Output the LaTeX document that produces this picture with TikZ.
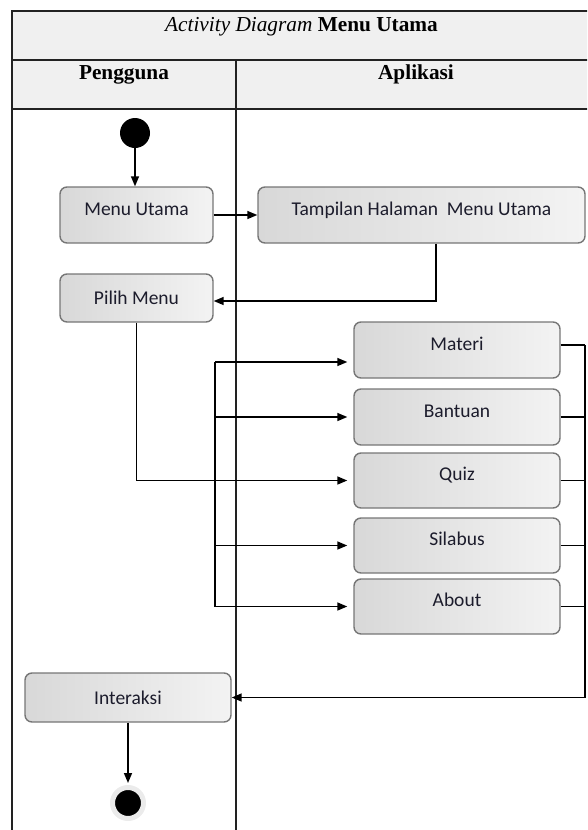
\documentclass[tikz,border=0pt]{standalone}
\usepackage{fontspec}
\setmainfont{Liberation Serif}
\newfontfamily\boxfont{Carlito}
\usetikzlibrary{arrows.meta}

\definecolor{hdrfill}{HTML}{F0F0F0}
\definecolor{rulecol}{HTML}{222222}
\definecolor{boxedge}{HTML}{767676}
\definecolor{shadeL}{HTML}{D8D8D8}
\definecolor{shadeR}{HTML}{F3F3F3}
\definecolor{labeltext}{HTML}{1C1C2C}

\tikzset{
  table rule/.style={draw=rulecol, line width=1.6pt},
  activity/.style={draw=boxedge, line width=1.4pt, rounded corners=7pt,
    left color=shadeL, right color=shadeR, text=labeltext, inner sep=0pt,
    font=\boxfont\fontsize{19.5}{22}\selectfont},
  toplabel/.style={text height=13pt, text depth=13pt},
  flow/.style={draw=black, line width=1.5pt, -{Triangle[length=10pt,width=8pt]}},
  plain flow/.style={draw=black, line width=1.5pt},
  lane title/.style={font=\fontsize{21.3}{24}\selectfont\bfseries, anchor=base},
}

\begin{document}
\begin{tikzpicture}[x=1pt,y=-1pt]
\useasboundingbox (0,0) rectangle (587,830);
\clip (0,0) rectangle (587,830);

% swimlane table: title band, lane headers, lane divider
\fill[hdrfill] (12,11) rectangle (593,109);
\draw[table rule] (12,830) -- (12,11) -- (593,11) -- (593,830);
\draw[table rule] (12,60) -- (593,60);
\draw[table rule] (12,109) -- (593,109);
\draw[table rule] (236,60) -- (236,830);

\node[anchor=base, font=\fontsize{21.3}{24}\selectfont] (title) at (301.5,31)
  {\textit{Activity Diagram} \textbf{Menu Utama}};
\node[lane title] (laneUser) at (124,79) {Pengguna};
\node[lane title] (laneApp) at (416,79) {Aplikasi};

% initial and final states
\node[circle, fill=black, minimum size=30pt, inner sep=0pt] (start) at (135,133) {};
\node[circle, fill=black, draw=black!8, line width=5pt, minimum size=31pt, inner sep=0pt] (finish) at (128,803) {};

% activities
\node[activity, toplabel, minimum width=153pt, minimum height=56pt] (menu) at (136.5,215) {Menu Utama};
\node[activity, toplabel, minimum width=327pt, minimum height=56pt] (show) at (421.5,215) {Tampilan Halaman\ \ Menu Utama};
\node[activity, minimum width=153pt, minimum height=48pt] (pick) at (136.5,298) {Pilih Menu};
\node[activity, toplabel, minimum width=206pt, minimum height=56pt] (materi) at (457,350) {Materi};
\node[activity, toplabel, minimum width=206pt, minimum height=56pt] (bantuan) at (457,417) {Bantuan};
\node[activity, toplabel, minimum width=206pt, minimum height=55pt] (quiz) at (457,480.5) {Quiz};
\node[activity, toplabel, minimum width=206pt, minimum height=55pt] (silabus) at (457,545.5) {Silabus};
\node[activity, toplabel, minimum width=206pt, minimum height=55pt] (about) at (457,606.5) {About};
\node[activity, minimum width=206pt, minimum height=49pt] (interaksi) at (128,697.5) {Interaksi};

% control flow
\draw[flow] (start.south) -- (start.south |- menu.north);
\draw[flow] (menu.east) -- (show.west);
\draw[flow] ([xshift=14.5pt]show.south) |- ([yshift=-3pt]pick.east);
\draw[flow, shorten >=6pt] (pick.south) |- (quiz.west);

% fork bar to the menu choices
\coordinate (forkTop) at (215,362);
\coordinate (forkBot) at (215,606.5);
\draw[plain flow] (forkTop) -- (forkBot);
\draw[flow, shorten >=6pt] (forkTop) -- (forkTop -| materi.west);
\draw[flow, shorten >=6pt] (bantuan.west -| forkTop) -- (bantuan.west);
\draw[flow, shorten >=6pt] (silabus.west -| forkTop) -- (silabus.west);
\draw[flow, shorten >=6pt] (forkBot) -- (about.west);

% join back to the user lane
\coordinate (joinTop) at (585,345);
\draw[plain flow] ([yshift=5pt]materi.east) -- (joinTop);
\draw[plain flow] (bantuan.east) -- (bantuan.east -| joinTop);
\draw[plain flow] (quiz.east) -- (quiz.east -| joinTop);
\draw[plain flow] (silabus.east) -- (silabus.east -| joinTop);
\draw[plain flow] (about.east) -- (about.east -| joinTop);
\draw[flow] (joinTop) |- (interaksi.east);
\draw[flow, shorten >=2pt] (interaksi.south) -- (finish.north);
\end{tikzpicture}
\end{document}
